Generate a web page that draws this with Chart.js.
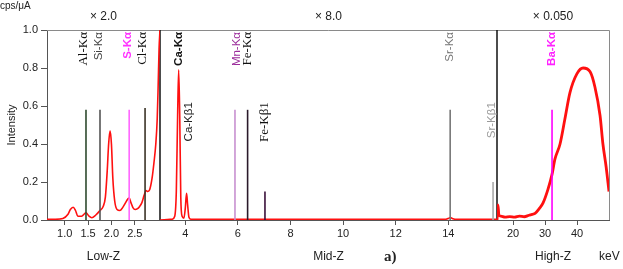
<!DOCTYPE html>
<html lang="en">
<head>
<meta charset="UTF-8">
<title>XRF spectrum</title>
<script src="https://cdn.jsdelivr.net/npm/chart.js"></script>
<style>
  html, body { margin: 0; padding: 0; background: #fff; }
  #wrap { position: relative; width: 623px; height: 269px; }
</style>
</head>
<body>
<div id="wrap"><canvas id="spectrum" width="623" height="269"></canvas></div>
<script>
// ---- data ----
// three energy ranges, each with its own keV axis
const rangeNames = ['Low-Z', 'Mid-Z', 'High-Z'];
const rangeGain = ['× 2.0', '× 8.0', '× 0.050'];
const rangeMin = [0.62, 3.04, 15.0];
const rangeMax = [3.04, 15.85, 50.0];
const lowTicks = [1.0, 1.5, 2.0, 2.5];
const midTicks = [4, 6, 8, 10, 12, 14];
const highTicks = [20, 30, 40];
const yTicks = [0, 0.2, 0.4, 0.6, 0.8, 1.0];

// spectrum (keV, intensity)
const lowEnergy = [0.62, 0.80, 0.96, 1.07, 1.12, 1.18, 1.23, 1.28, 1.36, 1.455, 1.52, 1.58, 1.66, 1.755, 1.82, 1.87, 1.91, 1.94, 1.97, 2.00, 2.03, 2.07, 2.12, 2.18, 2.24, 2.30, 2.35, 2.38, 2.42, 2.46, 2.51, 2.56, 2.60, 2.65, 2.70, 2.74, 2.78, 2.82, 2.87, 2.91, 2.95, 2.98, 3.00, 3.02, 3.04];
const lowCounts = [0.004, 0.004, 0.008, 0.03, 0.055, 0.067, 0.05, 0.02, 0.02, 0.038, 0.02, 0.012, 0.025, 0.05, 0.07, 0.12, 0.26, 0.40, 0.47, 0.40, 0.22, 0.10, 0.055, 0.05, 0.065, 0.09, 0.11, 0.115, 0.09, 0.065, 0.055, 0.06, 0.07, 0.09, 0.13, 0.155, 0.15, 0.16, 0.22, 0.30, 0.40, 0.53, 0.70, 0.90, 1.0];

const midEnergy = [3.04, 3.50, 3.60, 3.66, 3.71, 3.75, 3.79, 3.83, 3.88, 3.95, 4.00, 4.05, 4.09, 4.14, 4.22, 6.0, 9.0, 12.0, 13.9, 14.0, 14.07, 14.15, 14.25, 15.0, 15.85];
const midCounts = [0.0, 0.004, 0.02, 0.15, 0.55, 0.79, 0.55, 0.12, 0.02, 0.01, 0.06, 0.14, 0.08, 0.015, 0.004, 0.004, 0.004, 0.004, 0.004, 0.008, 0.013, 0.008, 0.004, 0.004, 0.004];

const highEnergy = [15.0, 15.3, 15.6, 16.2, 17.5, 19.0, 20.5, 22.0, 23.5, 25.0, 26.0, 26.9, 28.2, 29.4, 30.9, 32.2, 33.1, 34.7, 36.2, 37.8, 40.0, 41.9, 44.1, 45.6, 47.2, 48.1, 49.1, 50.0];
const highCounts = [0.0, 0.08, 0.025, 0.02, 0.015, 0.018, 0.015, 0.02, 0.017, 0.025, 0.03, 0.035, 0.06, 0.09, 0.16, 0.24, 0.32, 0.40, 0.53, 0.67, 0.77, 0.80, 0.78, 0.70, 0.55, 0.40, 0.28, 0.15];

// element lines: name, energy, marker height, range index
const lineNames = ['Al-Kα', 'Si-Kα', 'S-Kα', 'Cl-Kα', 'Ca-Kα', 'Ca-Kβ1', 'Mn-Kα', 'Fe-Kα', 'Fe-Kβ1', 'Sr-Kα', 'Sr-Kβ1', 'Ba-Kα'];
const lineEnergy = [1.455, 1.755, 2.38, 2.72, 3.75, 4.07, 5.89, 6.37, 7.03, 14.07, 15.7, 32.2];
const lineHeight = [0.58, 0.58, 0.58, 0.59, 0, 0, 0.58, 0.58, 0.15, 0.58, 0.20, 0.58];
const lineRange = [0, 0, 0, 0, 1, 1, 1, 1, 1, 1, 1, 2];

// ---- styles ----
const axisIds = ['xLow', 'xMid', 'xHigh'];
const rangeTicks = [lowTicks, midTicks, highTicks];
const lineColors = ['#2e4a2e', '#555', '#ff66ff', '#3b3326', '#000', '#000', '#c890d0', '#2a1a2a', '#3a103a', '#777', '#aaa', '#ff00ff'];
const labelStyle = [
  { font: '13px "Liberation Serif"', color: '#111', top: true, dx: -2 },
  { font: '11.5px "Liberation Sans"', color: '#444', top: true, dx: -1 },
  { font: 'bold 11.5px "Liberation Sans"', color: '#ff33ff', top: true, dx: -1.5 },
  { font: '13px "Liberation Serif"', color: '#111', top: true, dx: -2 },
  { font: 'bold 11.5px "Liberation Sans"', color: '#111', top: true, dx: 0 },
  { font: '11.5px "Liberation Sans"', color: '#222', top: false, dx: 2 },
  { font: '11.5px "Liberation Sans"', color: '#9a2a9a', top: true, dx: 2 },
  { font: '13px "Liberation Serif"', color: '#111', top: true, dx: 0 },
  { font: '13px "Liberation Serif"', color: '#111', top: false, dx: 0 },
  { font: '11.5px "Liberation Sans"', color: '#777', top: true, dx: 0 },
  { font: '11.5px "Liberation Sans"', color: '#999', top: false, dx: -1 },
  { font: 'bold 11.5px "Liberation Sans"', color: '#ff22ff', top: true, dx: 0 }
];
const tickFont = { family: '"Liberation Sans", Arial, sans-serif', size: 11 };

function pts(xs, ys) {
  return xs.map((x, i) => ({ x: x, y: ys[i] }));
}

const datasets = [];
// element marker lines first so the spectrum sits on top
lineNames.forEach((name, i) => {
  if (!lineHeight[i]) return;
  datasets.push({
    label: name,
    data: [{ x: lineEnergy[i], y: 0 }, { x: lineEnergy[i], y: lineHeight[i] }],
    xAxisID: axisIds[lineRange[i]],
    borderColor: lineColors[i],
    borderWidth: 1.6,
    pointRadius: 0
  });
});
[[lowEnergy, lowCounts, 1.6], [midEnergy, midCounts, 1.6], [highEnergy, highCounts, 2.8]].forEach((s, i) => {
  datasets.push({
    label: rangeNames[i],
    data: pts(s[0], s[1]),
    xAxisID: axisIds[i],
    borderColor: '#ff1010',
    borderWidth: s[2],
    pointRadius: 0,
    cubicInterpolationMode: 'monotone'
  });
});

function xAxis(i, weight) {
  return {
    type: 'linear',
    position: 'bottom',
    stack: 'energy',
    stackWeight: weight,
    min: rangeMin[i],
    max: rangeMax[i],
    afterBuildTicks: s => { s.ticks = rangeTicks[i].map(v => ({ value: v })); },
    afterFit: s => { s.height = 49; },
    grid: { display: true, drawOnChartArea: false, drawTicks: true, tickLength: 5, color: '#555' },
    border: { display: true, color: '#555', width: 1 },
    ticks: {
      autoSkip: false, maxRotation: 0, padding: 2, color: '#222', font: tickFont,
      callback: v => i === 0 ? v.toFixed(1) : String(v)
    },
    title: { display: true, text: rangeNames[i], color: '#222', font: { family: tickFont.family, size: 12 }, padding: { top: 0, bottom: 5 } }
  };
}

const decor = {
  id: 'decor',
  beforeDatasetsDraw(chart) {
    const { ctx, chartArea: a, scales } = chart;
    ctx.save();
    ctx.strokeStyle = '#8a8a8a';
    ctx.lineWidth = 1;
    ctx.beginPath();
    ctx.moveTo(a.left, a.top + 0.5);
    ctx.lineTo(a.right + 0.5, a.top + 0.5);
    ctx.lineTo(a.right + 0.5, a.bottom);
    ctx.stroke();
    ctx.strokeStyle = '#111';
    ctx.lineWidth = 1.5;
    [scales.xLow.right, scales.xMid.right].forEach(x => {
      ctx.beginPath();
      ctx.moveTo(x, a.top);
      ctx.lineTo(x, a.bottom);
      ctx.stroke();
    });
    ctx.restore();
  },
  afterDatasetsDraw(chart) {
    const { ctx, chartArea: a, scales } = chart;
    lineNames.forEach((name, i) => {
      const st = labelStyle[i];
      const x = scales[axisIds[lineRange[i]]].getPixelForValue(lineEnergy[i]) + st.dx;
      const y = st.top ? a.top + 2 : scales.y.getPixelForValue(0.62);
      ctx.save();
      ctx.translate(x, y);
      ctx.rotate(-Math.PI / 2);
      ctx.font = st.font;
      ctx.fillStyle = st.color;
      ctx.textAlign = 'right';
      ctx.textBaseline = 'middle';
      ctx.fillText(name, 0, 0);
      ctx.restore();
    });
  },
  afterDraw(chart) {
    const { ctx, chartArea: a, scales } = chart;
    ctx.save();
    ctx.fillStyle = '#222';
    ctx.textBaseline = 'middle';
    ctx.textAlign = 'center';
    ctx.font = '12px "Liberation Sans"';
    axisIds.forEach((id, i) => {
      const s = scales[id];
      ctx.fillText(rangeGain[i], (s.left + s.right) / 2, a.top - 13);
    });
    ctx.textAlign = 'left';
    ctx.font = '10px "Liberation Sans"';
    ctx.fillText('cps/μA', 0, 6);
    ctx.font = '12px "Liberation Sans"';
    ctx.fillText('keV', 599, 257);
    ctx.font = 'bold 15px "Liberation Serif"';
    ctx.fillText('a)', 384, 257);
    ctx.restore();
  }
};

new Chart(document.getElementById('spectrum'), {
  type: 'line',
  data: { datasets: datasets },
  plugins: [decor],
  options: {
    responsive: false,
    animation: false,
    devicePixelRatio: 1,
    layout: { padding: { top: 30, right: 14, bottom: 0, left: 5 } },
    plugins: { legend: { display: false }, tooltip: { enabled: false } },
    scales: {
      xLow: xAxis(0, 113),
      xMid: xAxis(1, 337),
      xHigh: xAxis(2, 112),
      y: {
        position: 'left',
        min: 0,
        max: 1,
        afterBuildTicks: s => { s.ticks = yTicks.map(v => ({ value: v })); },
        afterFit: s => { s.width = 42; },
        grid: { display: true, drawOnChartArea: false, drawTicks: true, tickLength: 6, color: '#555' },
        border: { display: true, color: '#555', width: 1 },
        ticks: { padding: 3, color: '#222', font: tickFont, callback: v => v.toFixed(1) },
        title: { display: true, text: 'Intensity', color: '#222', font: { family: tickFont.family, size: 11 }, padding: 0 }
      }
    }
  }
});
</script>
</body>
</html>
